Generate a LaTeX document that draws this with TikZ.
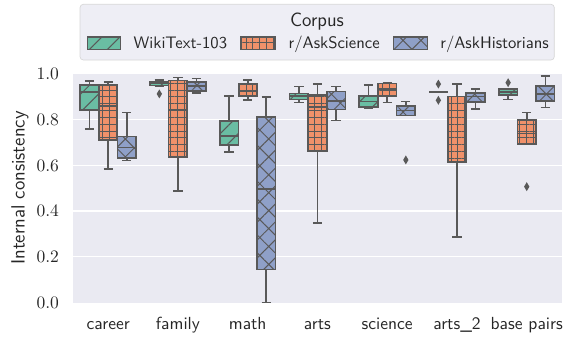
\documentclass[tikz,border=0pt]{standalone}
\usepackage{tikz}
\usetikzlibrary{patterns.meta}
\definecolor{plotbg}{HTML}{EAEAF2}
\definecolor{boxedge}{HTML}{595959}
\definecolor{textcol}{HTML}{262626}
\definecolor{wikigreen}{HTML}{6ABDA3}
\definecolor{sciorange}{HTML}{F0916A}
\definecolor{histblue}{HTML}{8FA0C8}
\definecolor{legbg}{HTML}{EEEEF5}
\definecolor{legedge}{HTML}{D6D6D6}
\tikzset{whisk/.style={draw=boxedge,line width=1pt},
  wiki/.style={fill=wikigreen,postaction={pattern={Lines[angle=45,distance=7.6pt,line width=0.6pt]},pattern color=boxedge}},
  science/.style={fill=sciorange,postaction={pattern={Hatch[angle=0,distance=4.1pt,line width=0.6pt]},pattern color=boxedge}},
  historians/.style={fill=histblue,postaction={pattern={Hatch[angle=45,distance=7.6pt,line width=0.6pt]},pattern color=boxedge}},
  ticklab/.style={anchor=east,inner sep=0pt,text=textcol,font=\fontsize{10.5}{12}\selectfont},
  catlab/.style={anchor=base,inner sep=0pt,text=textcol,font=\fontsize{10.5}{12}\selectfont\sffamily},
  legtext/.style={anchor=base west,inner sep=0pt,text=textcol,font=\fontsize{10}{12}\selectfont\sffamily}}
% one box with whiskers: style, x, low, q1, median, q3, high
\newcommand{\boxwhisk}[7]{%
  \draw[whisk] (#2,#3) -- (#2,#4) (#2,#6) -- (#2,#7)
    (#2-0.0667,#3) -- (#2+0.0667,#3) (#2-0.0667,#7) -- (#2+0.0667,#7);
  \draw[whisk,#1] (#2-0.1333,#4) rectangle (#2+0.1333,#6);
  \draw[whisk] (#2-0.1333,#5) -- (#2+0.1333,#5);}
\newcommand{\flier}[2]{\fill[boxedge] (#1,#2) +(0,2.7pt) -- +(1.6pt,0) -- +(0,-2.7pt) -- +(-1.6pt,0) -- cycle;}

\begin{document}
\begin{tikzpicture}[x=0.6pt,y=-0.6pt]
  \useasboundingbox (0,0) rectangle (572,336);
  \begin{scope}[shift={(73.3,302.5)},x=41.856pt,y=137.1pt]
    \fill[plotbg] (0,0) rectangle (7,1);
    \foreach \v in {0.2,0.4,0.6,0.8}
      \draw[white,line width=0.8pt] (0,\v) -- (7,\v);
    \foreach \v [count=\k] in {0.0,0.2,0.4,0.6,0.8,1.0}
      \node[ticklab] (ytick\k) at ([xshift=-8.4pt]0,\v) {\v};
    \foreach \c [count=\k] in {career,family,math,arts,science,arts\_2,base pairs}
      \node[catlab] (cat\k) at ([yshift=-16.1pt]\k-0.5,0) {\c};
    % WikiText-103
    \foreach \x/\a/\b/\c/\d/\e in {0.2333/.759/.842/.921/.952/.970, 1.2333/.946/.950/.958/.966/.973,
        2.2333/.660/.689/.729/.794/.905, 3.2333/.876/.889/.904/.915/.945, 4.2333/.850/.857/.879/.905/.952,
        5.2333/.922/.922/.922/.922/.922, 6.2333/.889/.908/.920/.933/.937}
      {\boxwhisk{wiki}{\x}{\a}{\b}{\c}{\d}{\e}}
    \flier{1.2333}{.913} \flier{5.2333}{.956} \flier{5.2333}{.885} \flier{6.2333}{.962}
    % r/AskScience
    \foreach \x/\a/\b/\c/\d/\e in {0.5/.583/.711/.860/.952/.964, 1.5/.488/.638/.842/.971/.984,
        2.5/.886/.904/.927/.956/.974, 3.5/.347/.663/.855/.908/.956, 4.5/.875/.904/.933/.959/.963,
        5.5/.287/.614/.840/.901/.955, 6.5/.694/.694/.740/.799/.831}
      {\boxwhisk{science}{\x}{\a}{\b}{\c}{\d}{\e}}
    \flier{6.5}{.507}
    % r/AskHistorians
    \foreach \x/\a/\b/\c/\d/\e in {0.7667/.621/.631/.679/.726/.832, 1.7667/.918/.927/.947/.966/.981,
        2.7667/0/.145/.498/.813/.898, 3.7667/.796/.845/.883/.923/.945, 4.7667/.818/.818/.840/.860/.879,
        5.7667/.848/.877/.901/.918/.933, 6.7667/.854/.883/.912/.947/.991}
      {\boxwhisk{historians}{\x}{\a}{\b}{\c}{\d}{\e}}
    \flier{4.7667}{.624}
  \end{scope}
  \node[rotate=90,text=textcol,font=\fontsize{11.5}{13}\selectfont\sffamily] (ylab) at (20,188) {Internal consistency};
  % legend
  \draw[legedge,fill=legbg,rounded corners=2pt] (80,4.3) rectangle (554.3,60);
  \node[anchor=base,inner sep=0pt,text=textcol,font=\fontsize{11.5}{13}\selectfont\sffamily] (legtitle) at (317,26) {Corpus};
  \draw[whisk,line width=0.75pt,wiki] (87.3,37) rectangle (120.7,49.3);
  \node[legtext] (legwiki) at (133.3,48.3) {WikiText-103};
  \draw[whisk,line width=0.75pt,science] (241,37) rectangle (275,49.3);
  \node[legtext] (legsci) at (288.3,48.3) {r/AskScience};
  \draw[whisk,line width=0.75pt,historians] (393.3,37) rectangle (427.3,49.3);
  \node[legtext] (leghist) at (440,48.3) {r/AskHistorians};
\end{tikzpicture}
\end{document}
